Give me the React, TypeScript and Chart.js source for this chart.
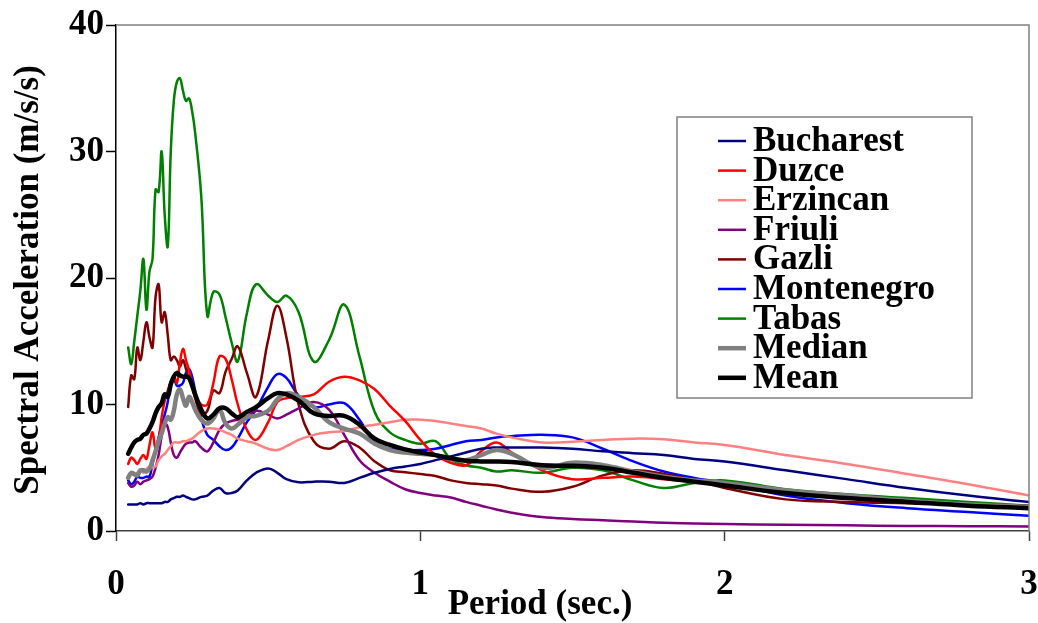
import { useEffect, useRef } from "react";
import { Chart, registerables } from "chart.js";

Chart.register(...registerables);

const periods = [0.04,0.05,0.06,0.07,0.08,0.09,0.10,0.11,0.12,0.13,0.14,0.15,0.16,0.17,0.18,0.19,0.20,0.21,0.22,0.23,0.24,0.25,0.26,0.28,0.30,0.32,0.34,0.36,0.38,0.40,0.43,0.46,0.50,0.53,0.56,0.60,0.65,0.70,0.75,0.80,0.85,0.90,0.95,1.00,1.05,1.10,1.15,1.20,1.25,1.30,1.40,1.50,1.60,1.70,1.80,1.90,2.00,2.20,2.40,2.60,2.80,3.00];

const bucharest = [2.1,2.1,2.1,2.1,2.2,2.1,2.2,2.2,2.2,2.2,2.2,2.2,2.3,2.3,2.5,2.6,2.7,2.7,2.8,2.7,2.6,2.5,2.5,2.7,2.8,3.2,3.4,3.0,3.0,3.2,4.0,4.6,4.95,4.6,4.1,3.85,3.9,3.9,3.8,4.2,4.6,4.9,5.1,5.3,5.6,5.9,6.2,6.5,6.6,6.6,6.6,6.5,6.3,6.15,6.0,5.7,5.5,4.8,4.1,3.4,2.8,2.3];
const duzce = [5.3,5.8,5.6,5.3,5.7,6.0,5.7,6.8,7.8,6.5,7.2,9.0,10.3,11.1,11.8,12.2,11.7,13.3,14.4,13.5,12.7,11.7,10.8,10.0,10.0,11.7,13.8,13.6,12.0,10.0,8.0,7.2,8.6,10.2,10.5,10.6,10.8,11.8,12.2,11.9,11.2,9.9,8.7,7.2,6.0,5.4,5.2,6.3,7.0,6.2,4.8,4.1,4.2,4.3,4.1,3.9,3.7,3.1,2.6,2.3,2.0,1.8];
const erzincan = [4.3,4.6,4.4,4.6,4.8,4.6,4.9,5.1,5.0,5.1,5.6,5.9,6.1,6.4,6.7,7.0,7.0,7.0,7.1,7.1,7.2,7.3,7.5,7.9,8.1,8.1,8.0,7.8,7.6,7.3,7.1,6.9,6.5,6.4,6.7,7.2,7.6,7.8,7.9,8.2,8.4,8.6,8.8,8.8,8.7,8.5,8.3,8.1,7.7,7.4,7.0,7.05,7.2,7.3,7.25,7.0,6.8,6.0,5.3,4.5,3.7,2.8];
const friuli = [3.8,3.5,3.6,3.9,3.7,3.9,4.0,4.1,4.3,5.0,6.0,7.5,8.5,8.2,7.0,6.0,5.8,6.2,6.6,6.9,7.0,7.0,7.1,6.6,6.3,7.0,8.0,8.5,8.7,8.8,9.0,9.5,9.2,8.9,9.2,9.7,10.2,9.6,7.6,5.6,4.6,3.9,3.3,3.0,2.8,2.65,2.3,2.0,1.7,1.45,1.1,0.95,0.85,0.75,0.65,0.6,0.55,0.5,0.45,0.4,0.38,0.35];
const gazli = [9.8,12.3,12.0,14.5,13.5,15.0,16.5,15.3,14.5,18.5,19.5,16.5,17.3,15.5,13.5,13.8,13.5,13.0,13.5,12.8,12.0,11.5,10.5,9.2,9.5,11.1,10.9,12.6,13.6,14.6,12.5,10.6,15.1,17.8,15.3,10.0,7.1,6.5,7.1,6.6,5.5,4.8,4.65,4.5,4.35,4.0,3.8,3.7,3.6,3.35,3.1,3.5,4.4,4.8,4.5,4.0,3.4,2.5,2.3,2.2,2.1,2.0];
const montenegro = [4.0,3.7,3.9,4.3,4.2,4.2,4.3,4.3,5.3,6.3,7.4,8.4,9.2,10.2,11.8,12.0,11.5,11.5,11.7,12.5,12.8,12.2,11.1,8.9,7.6,7.2,6.7,6.4,6.6,7.3,8.6,9.6,11.4,12.4,12.1,10.7,9.8,10.0,10.1,8.8,7.0,6.5,6.4,6.4,6.5,6.8,7.1,7.2,7.4,7.5,7.6,7.4,6.5,5.5,4.7,4.2,3.8,2.8,2.2,1.8,1.5,1.2];
const tabas = [14.5,13.2,15.0,17.0,19.0,21.5,17.5,20.5,21.5,27.0,26.8,30.0,25.0,22.5,30.0,34.0,35.5,35.8,34.8,34.0,34.2,33.2,31.5,26.5,17.0,18.9,18.7,16.9,14.9,13.4,17.2,19.5,18.6,18.1,18.6,17.3,13.4,15.1,17.9,13.8,9.4,7.8,7.2,6.9,7.1,5.7,5.2,5.0,4.7,4.8,4.6,5.0,4.8,4.0,3.4,3.8,4.0,3.3,2.9,2.6,2.3,2.0];
const median = [4.2,4.6,4.5,4.4,4.8,4.8,4.7,4.9,5.6,6.3,7.1,7.7,8.5,9.0,8.8,9.5,10.8,11.2,10.5,9.9,10.6,10.2,9.6,8.8,8.5,8.9,9.6,8.5,8.1,8.4,9.0,9.1,9.5,10.4,10.9,10.6,9.8,8.6,8.1,7.7,6.9,6.4,6.2,6.1,6.0,5.7,5.6,6.0,6.4,6.1,5.0,5.4,5.2,4.7,4.3,4.0,3.8,3.2,2.8,2.4,2.1,1.9];
const mean = [6.1,6.6,7.0,7.2,7.3,7.6,7.7,8.1,8.6,9.3,9.8,10.1,10.8,10.6,11.6,12.2,12.5,12.3,12.2,12.2,12.1,11.5,10.8,9.6,8.9,9.2,9.7,9.7,9.3,9.0,9.4,9.8,10.5,10.9,10.8,10.3,9.3,9.1,9.1,8.4,7.3,6.8,6.45,6.2,6.0,5.75,5.55,5.5,5.5,5.45,5.2,5.15,5.0,4.6,4.2,3.9,3.6,3.0,2.6,2.3,2.0,1.8];

const seriesNames = ["Bucharest", "Duzce", "Erzincan", "Friuli", "Gazli", "Montenegro", "Tabas", "Median", "Mean"];
const seriesValues = [bucharest, duzce, erzincan, friuli, gazli, montenegro, tabas, median, mean];
const seriesColors = ["#000080", "#ff0000", "#ff8080", "#800080", "#800000", "#0000ff", "#008000", "#808080", "#000000"];
const seriesWidths = [2.5, 2.5, 2.5, 2.5, 2.5, 2.5, 2.5, 4.5, 4.5];
const seriesOrder = [2, 2, 2, 2, 2, 2, 2, 1, 0];

const xTicks = [0, 1, 2, 3];
const yTicks = [0, 10, 20, 30, 40];
const xTitle = "Period (sec.)";
const yTitle = "Spectral Acceleration (m/s/s)";

const FONT = "'Liberation Serif', 'Times New Roman', serif";

const overlayPlugin = {
  id: "overlay",
  afterDraw(chart: any) {
    const { ctx, chartArea: ca } = chart;
    ctx.save();
    // top and right frame
    ctx.strokeStyle = "#808080";
    ctx.lineWidth = 1.5;
    ctx.beginPath();
    ctx.moveTo(ca.left, ca.top);
    ctx.lineTo(ca.right, ca.top);
    ctx.lineTo(ca.right, ca.bottom);
    ctx.stroke();

    // axis titles
    ctx.fillStyle = "#000";
    ctx.font = `bold 35px ${FONT}`;
    ctx.textAlign = "center";
    ctx.textBaseline = "middle";
    ctx.fillText(xTitle, 540, 605);
    ctx.save();
    ctx.translate(29, 280);
    ctx.rotate(-Math.PI / 2);
    ctx.fillText(yTitle, 0, 0);
    ctx.restore();

    // legend
    const bx = 677, by = 117, bw = 295, bh = 281;
    ctx.fillStyle = "#fff";
    ctx.fillRect(bx, by, bw, bh);
    ctx.strokeStyle = "#808080";
    ctx.lineWidth = 1.5;
    ctx.strokeRect(bx, by, bw, bh);
    ctx.font = `bold 35px ${FONT}`;
    ctx.textAlign = "left";
    ctx.textBaseline = "middle";
    chart.data.datasets.forEach((ds: any, i: number) => {
      const y = 141 + i * 29.6;
      ctx.strokeStyle = ds.borderColor;
      ctx.lineWidth = ds.borderWidth;
      ctx.lineCap = "butt";
      ctx.beginPath();
      ctx.moveTo(718, y);
      ctx.lineTo(746, y);
      ctx.stroke();
      ctx.fillStyle = "#000";
      ctx.fillText(ds.label, 753, y + 1);
    });
    ctx.restore();
  },
};

export default function App() {
  const canvasRef = useRef<HTMLCanvasElement | null>(null);

  useEffect(() => {
    const canvas = canvasRef.current;
    if (!canvas) return;
    const datasets = seriesNames.map((name, s) => ({
      label: name,
      data: periods.map((t, i) => ({ x: t, y: seriesValues[s][i] })),
      borderColor: seriesColors[s],
      backgroundColor: seriesColors[s],
      borderWidth: seriesWidths[s],
      pointRadius: 0,
      tension: 0.4,
      fill: false,
      order: seriesOrder[s],
      borderJoinStyle: "round" as const,
      borderCapStyle: "round" as const,
    }));

    const chart = new Chart(canvas, {
      type: "line",
      data: { datasets },
      plugins: [overlayPlugin],
      options: {
        animation: false,
        responsive: false,
        devicePixelRatio: 1,
        layout: { padding: { top: 25, right: 9, left: 0, bottom: 0 } },
        plugins: { legend: { display: false }, tooltip: { enabled: false } },
        scales: {
          x: {
            type: "linear",
            min: 0,
            max: 3,
            afterBuildTicks: (scale: any) => {
              scale.ticks = xTicks.map((v) => ({ value: v }));
            },
            afterFit: (scale: any) => {
              scale.height = 92;
              scale.paddingLeft = 0;
              scale.paddingRight = 0;
            },
            ticks: {
              color: "#000",
              font: { family: FONT, size: 35, weight: "bold" },
              padding: 23,
              maxRotation: 0,
              autoSkip: false,
            },
            grid: { drawOnChartArea: false, tickLength: 10, color: "#404040", tickWidth: 1.5 },
            border: { color: "#404040", width: 1.5 },
          },
          y: {
            type: "linear",
            min: 0,
            max: 40,
            afterBuildTicks: (scale: any) => {
              scale.ticks = yTicks.map((v) => ({ value: v }));
            },
            afterFit: (scale: any) => {
              scale.width = 116;
              scale.paddingTop = 0;
              scale.paddingBottom = 0;
            },
            ticks: {
              color: "#000",
              font: { family: FONT, size: 35, weight: "bold" },
              padding: 2,
              autoSkip: false,
            },
            grid: { drawOnChartArea: false, tickLength: 10, color: "#000", tickWidth: 1.5 },
            border: { color: "#000", width: 1.5 },
          },
        },
      },
    });
    return () => chart.destroy();
  }, []);

  return (
    <div style={{ position: "fixed", left: 0, top: 0, width: 1038, height: 623, background: "#fff" }}>
      <canvas ref={canvasRef} width={1038} height={623} style={{ display: "block" }} />
    </div>
  );
}
